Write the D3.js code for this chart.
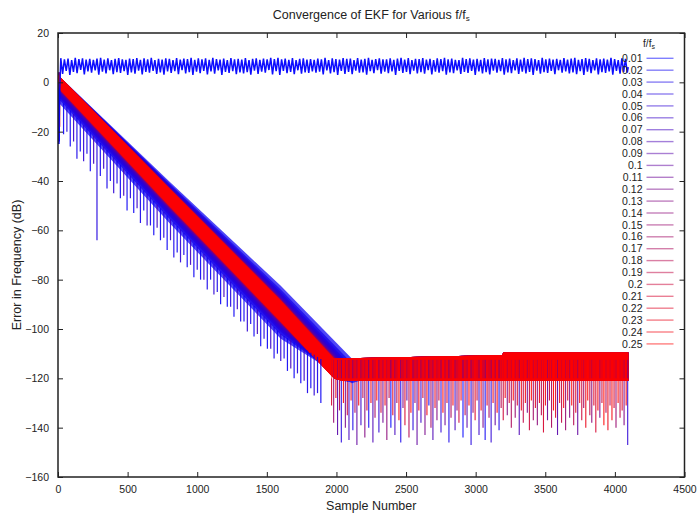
<!DOCTYPE html>
<html><head><meta charset="utf-8">
<script src="https://cdn.jsdelivr.net/npm/d3@7"></script>
<style>
body{margin:0;background:#fff}
svg{display:block}
text{font-family:"Liberation Sans",Arial,Helvetica,sans-serif;fill:#222}
</style>
</head><body>
<svg id="c" width="699" height="513"></svg>
<script>
// ---------------- data ----------------
const freqLabels = ["0.01","0.02","0.03","0.04","0.05","0.06","0.07","0.08","0.09","0.1","0.11","0.12","0.13","0.14","0.15","0.16","0.17","0.18","0.19","0.2","0.21","0.22","0.23","0.24","0.25"];
const xTicks = [0,500,1000,1500,2000,2500,3000,3500,4000,4500];
const yTicks = [20,0,-20,-40,-60,-80,-100,-120,-140,-160];

// f/fs = 0.01 : never converges, oscillates near +3..+10 dB
const f01Start = [[0,0],[6,-25],[12,-4]];            // [sample, dB]
const f01WaveFirst = 20, f01WaveStep = 13;            // sample of first vertex, samples between vertices
const f01Wave = [
9.8,3.4,9.3,4.6,9.6,3.0,9.0,4.2,9.9,3.7,9.4,5.0,9.7,3.2,9.2,4.4,9.5,3.9,9.1,4.8,
9.6,3.1,9.9,4.3,9.2,3.6,9.7,4.9,9.0,3.3,9.5,4.1,9.8,3.8,9.3,4.5,9.1,3.0,9.6,4.0,
9.4,3.5,9.8,4.7,9.1,3.2,9.7,4.2,9.3,3.9,9.9,4.6,9.0,3.4,9.5,4.0,9.2,3.1,9.7,4.4,
9.5,3.8,9.0,4.5,9.8,3.3,9.2,4.9,9.6,3.6,9.4,4.1,9.9,3.0,9.1,4.3,9.7,3.7,9.3,4.6,
9.7,3.2,9.1,4.4,9.9,3.5,9.4,4.8,9.2,3.0,9.6,4.2,9.0,3.8,9.8,4.5,9.3,3.3,9.5,4.0,
9.2,3.6,9.8,4.1,9.0,3.1,9.5,4.7,9.7,3.4,9.1,4.3,9.6,3.9,9.3,5.0,9.9,3.2,9.4,4.5,
9.9,3.0,9.3,4.6,9.6,3.7,9.1,4.2,9.8,3.3,9.0,4.9,9.5,3.5,9.7,4.0,9.2,3.8,9.4,4.4,
9.1,3.9,9.6,4.3,9.3,3.2,9.9,4.8,9.0,3.6,9.7,4.1,9.4,3.0,9.2,4.6,9.8,3.4,9.5,4.2,
9.6,3.3,9.0,4.7,9.8,3.9,9.2,4.0,9.5,3.1,9.9,4.5,9.1,3.7,9.4,4.9,9.7,3.5,9.3,4.3,
9.3,3.7,9.7,4.4,9.1,3.0,9.6,4.6,9.9,3.8,9.2,4.2,9.8,3.3,9.0,4.7,9.5,3.6,9.4,4.1,
9.8,3.5,9.2,4.9,9.5,3.2,9.0,4.3,9.7,3.9,9.4,4.5,9.9,3.1,9.3,4.0,9.6,3.7,9.1,4.8,
9.0,3.4,9.9,4.2,9.4,3.8,9.7,4.6,9.2,3.0,9.5,4.4,9.1,3.6,9.8,4.1,9.3,3.2,9.6,4.7,
9.5,3.9,9.1,4.5,9.8,3.1,9.3,4.0,9.6,3.7,9.0,4.8,9.7,3.4,9.2,4.3,9.9,3.6,9.4,4.2,
9.7,3.0,9.4,4.7,9.0,3.5,9.9,4.1,9.3,3.8,9.6,4.6,9.2,3.3,9.5,4.9,9.1,3.9,9.8,4.4,
9.2,3.6,9.6,4.0,9.9,3.3,9.1,4.5,9.4,3.0,9.8,4.3,9.5,3.7,9.0,4.8,9.7,3.2,9.3,4.1,
9.6,3.8,9.2,4.4,9.9,3.1,9.4,4.6,9.0,3.5,9.7,4.2,9.5,3.9];
const f01End = [4096, 6.2];

// f/fs = 0.02 ... 0.25 : dense oscillation bands, upper / lower envelopes (dB)
const bandHiStart = 3;
const hi800  = [-40.2,-40.9,-41.4,-41.7,-42.0,-42.2,-42.3,-42.4,-42.5,-42.6,-42.7,-42.7,-42.75,-42.8,-42.8,-42.85,-42.9,-42.9,-42.9,-42.95,-42.95,-43.0,-43.0,-43.0];
const hi1600 = [-82.5,-84.0,-85.0,-85.8,-86.3,-86.8,-87.1,-87.3,-87.5,-87.7,-87.8,-87.9,-88.0,-88.0,-88.1,-88.1,-88.2,-88.3,-88.3,-88.4,-88.4,-88.4,-88.4,-88.5];
const convSample = [2110,2078,2055,2039,2027,2018,2011,2006,2002,1998,1996,1993,1992,1990,1989,1988,1986,1985,1984,1983,1983,1982,1981,1980];
const lo0    = [-8,-6.5,-5.5,-4.7,-4.2,-3.7,-3.4,-3.2,-3.0,-2.8,-2.7,-2.6,-2.5,-2.5,-2.4,-2.4,-2.3,-2.2,-2.2,-2.2,-2.1,-2.1,-2.1,-2.0];
const lo800  = [-57,-55.3,-54.1,-53.2,-52.5,-52.0,-51.7,-51.4,-51.2,-51.0,-50.8,-50.7,-50.6,-50.6,-50.5,-50.4,-50.4,-50.3,-50.2,-50.2,-50.1,-50.1,-50.1,-50.0];
const lo1600 = [-104,-102.3,-101.1,-100.2,-99.5,-99.0,-98.7,-98.4,-98.2,-98.0,-97.8,-97.7,-97.6,-97.6,-97.5,-97.4,-97.4,-97.3,-97.2,-97.2,-97.1,-97.1,-97.1,-97.0];
const loConv = [-122,-121.5,-121.2,-121.0,-120.8,-120.7,-120.6,-120.5,-120.5,-120.4,-120.4,-120.3,-120.3,-120.3,-120.2,-120.2,-120.2,-120.2,-120.1,-120.1,-120.1,-120.1,-120,-120];
// noise floor after convergence
const floorTopAtConv = -112;
const floorTop = [[2800,-111],[3190,-110.5],[3200,-109.5],[4096,-109.5]];
const floorLo = -121;
const floorSpikeTop = -112.5;

// start-up transients [sample, bottom dB, series index]
const startDips = [[3,-22,24],[5,-25,1],[7,-20,12],[9,-24,3],[12,-18,20]];

// downward spikes below the descending band [sample, bottom dB, series index]
const descSpikes = [
[40,-21,1],[64,-20,3],[88,-26,1],[112,-24,5],[136,-31,2],[160,-28,1],[184,-32,4],[208,-29,2],
[232,-36,1],[256,-33,6],[280,-64,3],[304,-38,1],[328,-35,5],[352,-43,2],[376,-40,1],[400,-45,4],
[424,-41,2],[448,-47,1],[472,-46,6],[496,-52,1],[520,-47,3],[544,-53,1],[568,-51,5],[592,-57,2],
[616,-52,1],[640,-58,4],[664,-58,2],[688,-62,1],[712,-59,6],[736,-64,1],[760,-63,3],[784,-68,1],
[808,-64,5],[832,-71,2],[856,-69,1],[880,-73,4],[904,-70,2],[928,-75,1],[952,-74,6],[976,-79,1],
[1000,-76,3],[1024,-80,1],[1048,-80,5],[1072,-84,2],[1096,-80,1],[1120,-86,4],[1144,-85,2],[1168,-90,1],
[1192,-87,6],[1216,-91,1],[1240,-91,3],[1264,-95,1],[1288,-92,5],[1312,-97,2],[1336,-97,1],[1360,-101,4],
[1384,-98,2],[1408,-103,1],[1432,-102,6],[1456,-107,1],[1480,-104,3],[1504,-108,1],[1528,-108,5],[1552,-112,2],
[1576,-110,1],[1600,-113,4],[1624,-112,2],[1648,-117,1],[1672,-116,6],[1696,-120,1],[1720,-118,3],[1744,-122,1],
[1768,-121,5],[1792,-126,2],[1816,-124,1],[1840,-127,4],[1864,-126,2],[1888,-130,1]];

// spikes in the noise floor [sample, bottom dB, series index]
const floorSpikes = [
[1965,-131,20],[1980,-138,14],[1996,-128,22],[2008,-143,8],[2022,-133,18],[2035,-146,3],[2050,-130,23],[2064,-140,11],
[2078,-135,19],[2090,-145,6],[2105,-129,21],[2118,-141,2],[2133,-134,16],[2147,-147,9],[2160,-131,23],[2176,-139,5],
[2190,-128,17],[2204,-144,12],[2219,-133,20],[2232,-140,1],[2248,-130,22],[2262,-146,7],[2277,-136,15],[2290,-129,24],
[2305,-142,4],[2320,-134,19],[2334,-138,10],[2349,-131,22],[2362,-145,13],[2378,-128,18],[2391,-140,0],[2405,-135,21],
[2420,-143,6],[2434,-130,16],[2449,-137,23],[2462,-146,2],[2478,-132,12],[2492,-139,20],[2506,-129,8],[2521,-144,17],
[2535,-134,24],[2550,-141,3],[2564,-130,14],[2579,-147,9],[2592,-133,22],[2607,-138,5],[2621,-128,19],[2636,-143,11],
[2650,-135,23],[2664,-131,1],[2679,-140,15],[2693,-145,7],[2708,-132,21],[2722,-137,12],[2736,-129,18],[2751,-142,4],
[2765,-134,24],[2780,-139,10],[2794,-130,20],[2808,-146,2],[2823,-136,16],[2837,-131,23],[2852,-141,6],[2866,-133,13],
[2880,-138,19],[2895,-129,22],[2909,-144,0],[2924,-135,17],[2938,-140,8],[2952,-131,24],[2967,-147,3],[2981,-134,14],
[2996,-137,21],[3010,-129,18],[3024,-143,5],[3039,-133,23],[3053,-140,11],[3068,-145,1],[3082,-131,20],[3096,-136,15],
[3111,-146,4],[3125,-130,22],[3140,-139,9],[3154,-134,24],[3168,-141,2],[3183,-132,17],[3198,-137,19],[3212,-128,23],
[3227,-135,12],[3241,-130,21],[3256,-140,16],[3270,-129,24],[3284,-136,14],[3299,-131,20],[3313,-143,7],[3328,-133,22],
[3342,-138,18],[3357,-130,23],[3371,-134,11],[3386,-141,19],[3400,-129,24],[3414,-137,15],[3429,-132,21],[3443,-139,13],
[3458,-130,22],[3472,-135,17],[3487,-142,20],[3501,-131,23],[3516,-137,10],[3530,-129,19],[3545,-140,16],[3559,-133,24],
[3574,-136,21],[3588,-143,8],[3603,-130,22],[3617,-138,18],[3632,-132,23],[3646,-141,14],[3661,-129,20],[3675,-136,12],
[3690,-131,24],[3704,-139,17],[3719,-134,21],[3733,-143,9],[3747,-130,23],[3762,-137,19],[3776,-132,15],[3791,-140,22],
[3805,-129,24],[3820,-135,18],[3834,-138,13],[3849,-131,21],[3863,-142,20],[3878,-133,23],[3892,-136,11],[3907,-130,19],
[3921,-139,24],[3936,-134,16],[3950,-141,22],[3965,-131,17],[3979,-137,23],[3994,-132,20],[4008,-140,14],[4023,-130,24],
[4037,-136,18],[4052,-133,21],[4066,-139,12],[4081,-131,23],[4092,-147,4]];

// ---------------- drawing ----------------
const svg = d3.select("#c");
const L = 58, R = 684.5, T = 33, B = 477;
const x = d3.scaleLinear().domain([0,4500]).range([L,R]);
const y = d3.scaleLinear().domain([-160,20]).range([B,T]);
const color = i => d3.interpolateRgb("rgb(0,0,255)","rgb(255,0,0)")(i/24);

svg.append("defs").append("clipPath").attr("id","clip")
  .append("rect").attr("x",L).attr("y",T).attr("width",R-L).attr("height",B-T);
const plot = svg.append("g").attr("clip-path","url(#clip)");
const line = d3.line().x(d=>x(d[0])).y(d=>y(d[1]));

// floor spikes below the floor body (under-layer)
plot.append("g").selectAll("line").data(floorSpikes).join("line")
  .attr("x1",d=>x(d[0])).attr("x2",d=>x(d[0]))
  .attr("y1",y(floorLo+1)).attr("y2",d=>y(d[1]))
  .attr("stroke",d=>color(d[2])).attr("stroke-width",1.1).attr("stroke-opacity",0.9);
plot.append("g").selectAll("line").data(startDips).join("line")
  .attr("x1",d=>x(d[0])).attr("x2",d=>x(d[0]))
  .attr("y1",y(4)).attr("y2",d=>y(d[1]))
  .attr("stroke",d=>color(d[2])).attr("stroke-width",1.2);

// bands for 0.02 .. 0.25
hi800.forEach((_,k)=>{
  const upper = [[0,bandHiStart],[800,hi800[k]],[1600,hi1600[k]],[convSample[k],floorTopAtConv]].concat(floorTop);
  const lower = [[0,lo0[k]],[800,lo800[k]],[1600,lo1600[k]],[convSample[k],loConv[k]],[convSample[k]+60,floorLo],[4096,floorLo]];
  const poly = upper.concat(lower.slice().reverse());
  plot.append("path").attr("d",line(poly)+"Z")
    .attr("fill",color(k+1)).attr("fill-opacity",0.72).attr("stroke","none");
});

// spikes below descending band (overlay, starting from lowest band edge)
const blueLo = d3.scaleLinear().domain([0,800,1600,convSample[0]]).range([lo0[0],lo800[0],lo1600[0],loConv[0]]);
plot.append("g").selectAll("line").data(descSpikes).join("line")
  .attr("x1",d=>x(d[0])).attr("x2",d=>x(d[0]))
  .attr("y1",d=>y(blueLo(d[0])+2)).attr("y2",d=>y(d[1]))
  .attr("stroke",d=>color(d[2])).attr("stroke-width",1.2).attr("stroke-opacity",0.9);
// floor spike traces inside the floor body (overlay texture)
plot.append("g").selectAll("line").data(floorSpikes).join("line")
  .attr("x1",d=>x(d[0])).attr("x2",d=>x(d[0]))
  .attr("y1",y(floorSpikeTop)).attr("y2",y(floorLo+1))
  .attr("stroke",d=>color(d[2])).attr("stroke-width",1).attr("stroke-opacity",0.55);

// 0.01 series
const f01Pts = f01Start.concat(f01Wave.map((v,i)=>[f01WaveFirst+i*f01WaveStep,v])).concat([f01End]);
plot.append("path").attr("d",line(f01Pts)).attr("fill","none")
  .attr("stroke",color(0)).attr("stroke-width",1.5).attr("stroke-opacity",0.95);

// ---------------- axes & frame ----------------
const tl = 5;
const fmt = d3.format("d");
const gx = svg.append("g").attr("transform",`translate(0,${B})`)
  .call(d3.axisBottom(x).tickValues(xTicks).tickFormat(fmt).tickSizeInner(-tl).tickSizeOuter(0).tickPadding(9));
const gxt = svg.append("g").attr("transform",`translate(0,${T})`)
  .call(d3.axisTop(x).tickValues(xTicks).tickSizeInner(-tl).tickSizeOuter(0).tickFormat(""));
const gy = svg.append("g").attr("transform",`translate(${L},0)`)
  .call(d3.axisLeft(y).tickValues(yTicks).tickFormat(fmt).tickSizeInner(-tl).tickSizeOuter(0).tickPadding(9));
const gyr = svg.append("g").attr("transform",`translate(${R},0)`)
  .call(d3.axisRight(y).tickValues(yTicks).tickSizeInner(-tl).tickSizeOuter(0).tickFormat(""));
[gx,gxt,gy,gyr].forEach(g=>{
  g.select(".domain").remove();
  g.selectAll(".tick line").attr("stroke","#222").attr("stroke-width",1);
  g.selectAll(".tick text").attr("font-size",10.5).attr("font-family","Liberation Sans,Arial,sans-serif").attr("fill","#222");
});
svg.append("rect").attr("x",L).attr("y",T).attr("width",R-L).attr("height",B-T)
  .attr("fill","none").attr("stroke","#222").attr("stroke-width",1.5);

// titles
const title = svg.append("text").attr("x",(L+R)/2).attr("y",19).attr("text-anchor","middle").attr("font-size",12.5);
title.append("tspan").text("Convergence of EKF for Various f/f");
title.append("tspan").attr("font-size",8).attr("dy",2).text("s");
svg.append("text").attr("x",(L+R)/2).attr("y",510).attr("text-anchor","middle").attr("font-size",12.5).text("Sample Number");
svg.append("text").attr("transform","translate(21,265) rotate(-90)").attr("text-anchor","middle").attr("font-size",12.5).text("Error in Frequency (dB)");

// legend
const lg = svg.append("g");
const lt = lg.append("text").attr("x",649).attr("y",47).attr("text-anchor","middle").attr("font-size",10);
lt.append("tspan").text("f/f");
lt.append("tspan").attr("font-size",7).attr("dy",2).text("s");
freqLabels.forEach((lab,i)=>{
  const yy = 58.3 + i*11.9;
  lg.append("text").attr("x",642.5).attr("y",yy).attr("dy","0.35em").attr("text-anchor","end").attr("font-size",10.5).text(lab);
  lg.append("line").attr("x1",646.5).attr("x2",673.5).attr("y1",yy).attr("y2",yy)
    .attr("stroke",color(i)).attr("stroke-width",1.4).attr("stroke-opacity",0.5);
});
</script>
</body></html>
